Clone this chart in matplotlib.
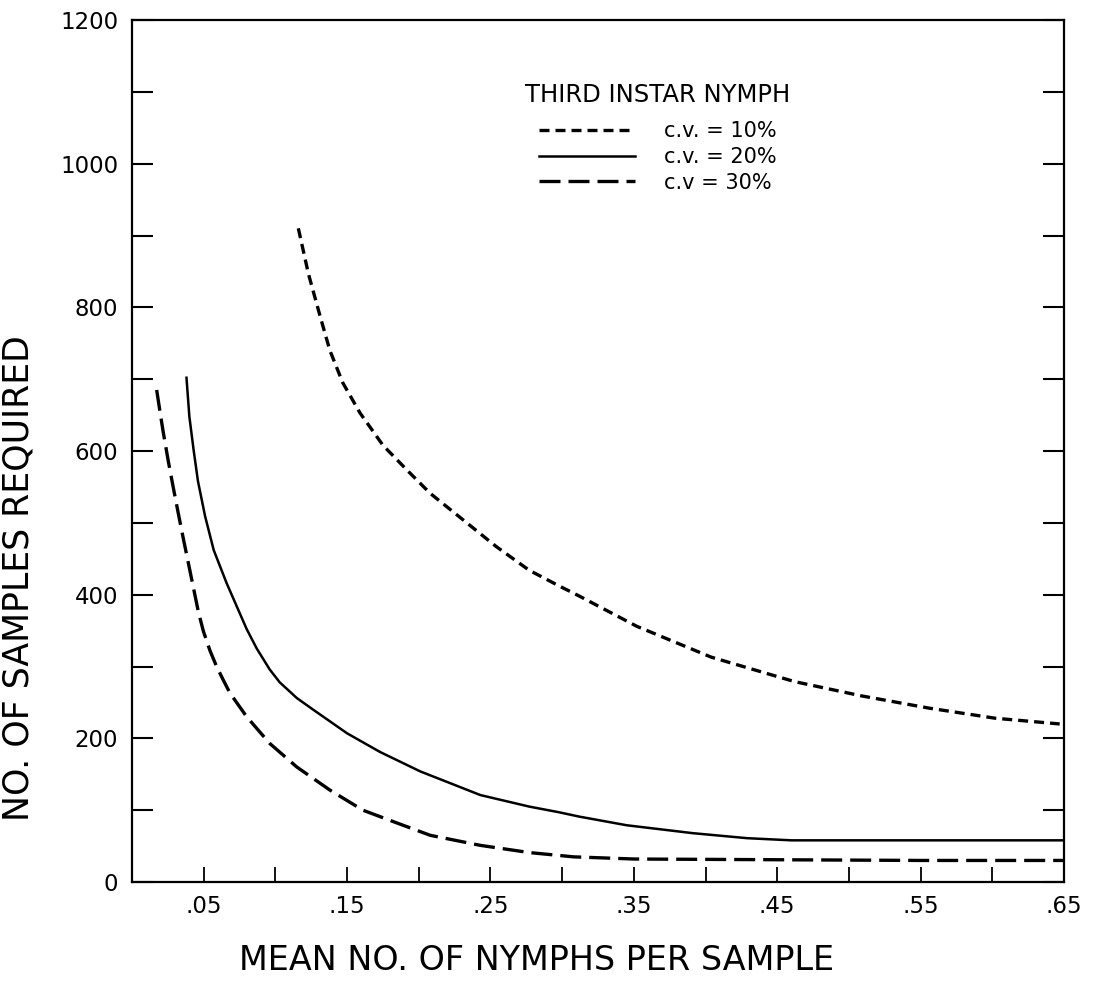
import matplotlib
matplotlib.use("Agg")
import matplotlib.pyplot as plt

# ---- data ----
x_cv10 = [0.116, 0.123, 0.131, 0.138, 0.147, 0.159, 0.175, 0.192, 0.208, 0.231,
          0.254, 0.277, 0.298, 0.312, 0.352, 0.404, 0.462, 0.509, 0.556, 0.602, 0.647]
y_cv10 = [910, 847, 789, 740, 695, 653, 608, 573, 541, 504,
          467, 434, 412, 398, 356, 313, 279, 259, 242, 228, 220]

x_cv20 = [0.038, 0.040, 0.043, 0.046, 0.051, 0.057, 0.066, 0.073, 0.080, 0.087,
          0.096, 0.103, 0.115, 0.127, 0.150, 0.173, 0.201, 0.243, 0.277, 0.298,
          0.312, 0.345, 0.391, 0.429, 0.46, 0.55, 0.65]
y_cv20 = [702, 648, 601, 558, 509, 462, 416, 384, 352, 325,
          296, 278, 256, 239, 207, 181, 154, 121, 105, 97,
          91, 79, 68, 61, 58, 58, 58]

x_cv30 = [0.0172, 0.0195, 0.0218, 0.0253, 0.0288, 0.0323, 0.0358, 0.0393, 0.0428, 0.0463,
          0.0498, 0.0544, 0.059, 0.0637, 0.0683, 0.080, 0.096, 0.115, 0.138, 0.161,
          0.185, 0.208, 0.243, 0.277, 0.308, 0.35, 0.45, 0.55, 0.65]
y_cv30 = [685, 655, 626, 586, 549, 513, 478, 444, 410, 376,
          349, 322, 300, 281, 263, 230, 193, 160, 128, 100,
          82, 65, 51, 41, 35, 32, 31, 30, 30]

series_labels = ["c.v. = 10%", "c.v. = 20%", "c.v = 30%"]
legend_title = "THIRD INSTAR NYMPH"
x_major_ticks = [0.05, 0.15, 0.25, 0.35, 0.45, 0.55, 0.65]
x_tick_labels = [".05", ".15", ".25", ".35", ".45", ".55", ".65"]
x_minor_ticks = [0.10, 0.20, 0.30, 0.40, 0.50, 0.60]
y_major_ticks = [0, 200, 400, 600, 800, 1000, 1200]
y_minor_ticks = [100, 300, 500, 700, 900, 1100]
x_label = "MEAN NO. OF NYMPHS PER SAMPLE"
y_label = "NO. OF SAMPLES REQUIRED"

# ---- figure ----
plt.rcParams['font.family'] = ['DejaVu Sans']
fig = plt.figure(figsize=(10.98, 9.88), dpi=100)
ax = fig.add_axes([132/1098, 1-882/988, (1064-132)/1098, (882-20)/988])

lw = 2.4
l10, = ax.plot(x_cv10, y_cv10, color='black', lw=lw, dashes=(3.0, 1.8),
               solid_joinstyle='round')
l20, = ax.plot(x_cv20, y_cv20, color='black', lw=1.8, solid_joinstyle='round')
l30, = ax.plot(x_cv30, y_cv30, color='black', lw=lw, dashes=(6.3, 2.4),
               solid_joinstyle='round')

ax.set_xlim(0, 0.65)
ax.set_ylim(0, 1200)

ax.set_xticks(x_major_ticks)
ax.set_xticklabels(x_tick_labels)
ax.set_xticks(x_minor_ticks, minor=True)
ax.set_yticks(y_major_ticks)
ax.set_yticks(y_minor_ticks, minor=True)

ax.tick_params(axis='x', which='both', direction='in', length=11, width=1.3,
               labelsize=16.5, pad=9, top=False)
ax.tick_params(axis='y', which='both', direction='in', length=15, width=1.5,
               labelsize=16.5, pad=10, right=True)

for s in ax.spines.values():
    s.set_linewidth(1.6)

ax.set_xlabel(x_label, fontsize=24)
ax.set_ylabel(y_label, fontsize=25)
ax.xaxis.set_label_coords((537-132)/932, (882-944)/862)
ax.yaxis.set_label_coords((36-132)/932, (882-578)/862)

ax.text((525-132)/932, (882-95)/862, legend_title, transform=ax.transAxes,
        fontsize=17.5, ha='left', va='center')

leg = ax.legend([l10, l20, l30], series_labels, loc='upper left',
                bbox_to_anchor=((539-132)/932, (882-121)/862),
                frameon=False, fontsize=15, handlelength=4.6,
                handletextpad=1.4, labelspacing=0.28, borderpad=0,
                borderaxespad=0)

fig.savefig("out.png", dpi=100)
